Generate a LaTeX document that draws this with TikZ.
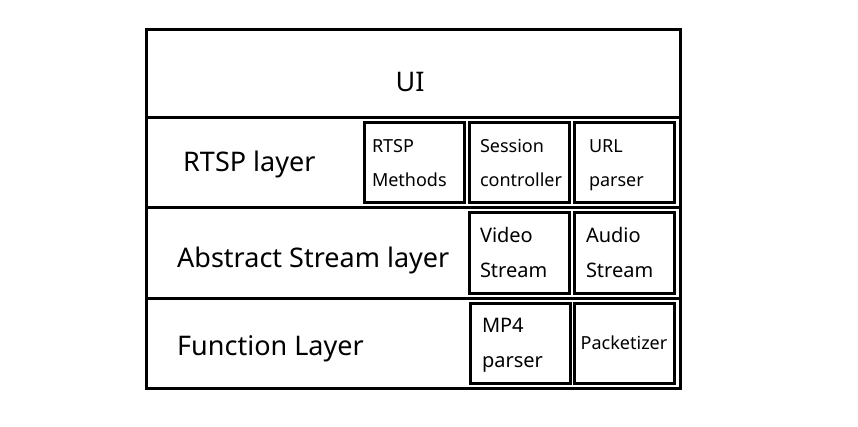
\documentclass[tikz,border=0pt]{standalone}
\usepackage{fontspec}
\setmainfont{Noto Sans}
\usetikzlibrary{positioning}
\usetikzlibrary{calc}

\begin{document}
\begin{tikzpicture}[layer/.style={draw, line width=3pt, minimum width=534pt, minimum height=90pt, outer sep=0pt, inner sep=0pt},
        module/.style={draw, line width=3pt, minimum width=100pt, minimum height=80pt, outer sep=0pt, inner xsep=11pt, text width=78pt, align=left, font=\fontsize{18}{34}\selectfont},
        bigmodule/.style={module, font=\fontsize{20}{35}\selectfont},
        title/.style={inner sep=0pt, font=\fontsize{27}{32}\selectfont}]
        \useasboundingbox (0,0) rectangle (858pt,426pt);
        \node[layer, minimum height=88pt] (ui) at (413pt,352pt) {};
        \node[layer, below=0pt of ui] (rtsp) {};
        \node[layer, below=0pt of rtsp] (abs) {};
        \node[layer, below=0pt of abs] (func) {};
        
        \node[title, anchor=base] (uit) at ($(ui.center)+(-3pt,-18pt)$) {UI};
        \node[title, anchor=base west] (rtspt) at ($(rtsp.west)+(37pt,-9pt)$) {RTSP layer};
        \node[title, anchor=base west] (abst) at ($(abs.west)+(31pt,-14pt)$) {Abstract Stream layer};
        \node[title, anchor=base west] (funct) at ($(func.west)+(31pt,-12pt)$) {Function Layer};
        
        % RTSP layer modules
        \node[module, inner xsep=15pt, text width=70pt, left=6pt of rtsp.east] (url) {URL\strut\\parser\strut};
        \node[module, left=5pt of url] (sess) {Session\strut\\controller\strut};
        \node[module, inner xsep=8pt, text width=84pt, left=5pt of sess] (meth) {RTSP\strut\\Methods\strut};
        
        % stream modules
        \node[bigmodule, inner xsep=12pt, text width=76pt, left=6pt of abs.east] (audio) {Audio\strut\\Stream\strut};
        \node[bigmodule, left=5pt of audio] (video) {Video\strut\\Stream\strut};
        
        % function modules
        \node[module, inner xsep=2pt, text width=96pt, align=center, left=6pt of func.east] (pack) {Packetizer\strut};
        \node[bigmodule, inner xsep=12pt, text width=76pt, left=4pt of pack] (mp4) {MP4\strut\\parser\strut};
    \end{tikzpicture}
\end{document}
